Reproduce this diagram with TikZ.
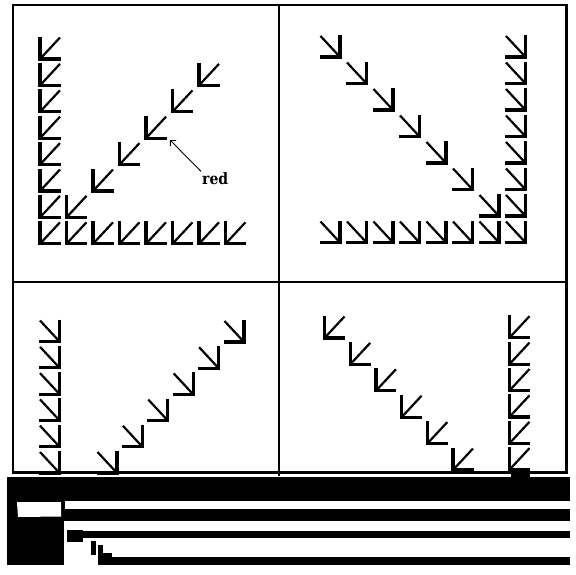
\documentclass[tikz,border=0pt]{standalone}
\usepackage{fontspec}
\newfontfamily\lblfont{DejaVu Serif}
\usetikzlibrary{arrows.meta}
\begin{document}
\begin{tikzpicture}[x=1pt,y=-1pt,
  frame/.style={line width=2.4pt},
  straight/.style={line width=3.2pt},
  diag/.style={line width=2.2pt},
  sw/.pic={\draw[straight] (0,-22.5) -- (0,0) -- (20.5,0); \draw[diag] (0,0) -- (20,-21.5);},
  se/.pic={\draw[straight] (0,-22) -- (0,0) -- (-20.5,0); \draw[diag] (0,0) -- (-19.5,-21);},
  pointer/.style={line width=0.9pt, -{Straight Barb[length=4pt,width=8pt]}},
  lbl/.style={font=\lblfont\bfseries\fontsize{14}{14}\selectfont, inner sep=1pt, anchor=base west},
  scan/.style={fill=black}
]
\useasboundingbox (0,0) rectangle (576,574);
\fill[white] (0,0) rectangle (576,574);

% top-left panel
\foreach \c in {0,...,7} \pic at ({40+26.5*\c},243.8) {sw};
\foreach \r in {0,...,6} \pic at (40,{59+26.4*\r}) {sw};
\foreach \i in {1,...,6} \pic at ({40+26.5*\i},{59+26.4*(7-\i)}) {sw};
\node[lbl] (red) at (201,184.5) {\scalebox{1}[1.12]{red}};
\coordinate (tip) at (170,140);
\draw[pointer] (red.north west) -- (tip);

% top-right panel
\foreach \c in {0,...,7} \pic at ({340+26.5*\c},242.5) {se};
\foreach \r in {0,...,6} \pic at (525.5,{57+26.5*\r}) {se};
\foreach \i in {0,...,6} \pic at ({340+26.5*\i},{57+26.5*\i}) {se};

% bottom-left panel
\foreach \r in {0,...,5} \pic at (59.5,{341.5+26.3*\r}) {se};
\foreach \r in {0,...,5} \pic at ({244-25.4*\r},{342+26.2*\r}) {se};

% bottom-right panel
\foreach \r in {0,...,5} \pic at ({324.5+25.7*\r},{338+26.4*\r}) {sw};
\foreach \r in {0,...,5} \pic at (509.5,{337.7+26.4*\r}) {sw};

% frame
\draw[frame] (13,5) rectangle (566.5,472.5);
\draw[frame] (279,5) -- (279,476);
\draw[frame] (13,282) -- (566.5,282);

% scanning damage at the bottom
\fill[scan] (511,467.5) rectangle (530,477);
\fill[scan] (7,476.5) rectangle (570,501);
\fill[scan] (7,501) rectangle (63.5,565);
\fill[scan] (63,501) rectangle (65,521);
\fill[white] (17,502) -- (61,502) -- (61,516.5) -- (18,517) -- cycle;
\fill[scan] (63.5,509.3) rectangle (570,520.7);
\fill[scan] (66.7,531) rectangle (570,538.3);
\fill[scan] (66.7,530) rectangle (83.3,541.7);
\fill[scan] (99,556.7) rectangle (570,565);
\fill[scan] (91,541) rectangle (96,555);
\fill[scan] (98,545) rectangle (103,565);
\fill[scan] (103,553) rectangle (112,565);
\end{tikzpicture}
\end{document}
